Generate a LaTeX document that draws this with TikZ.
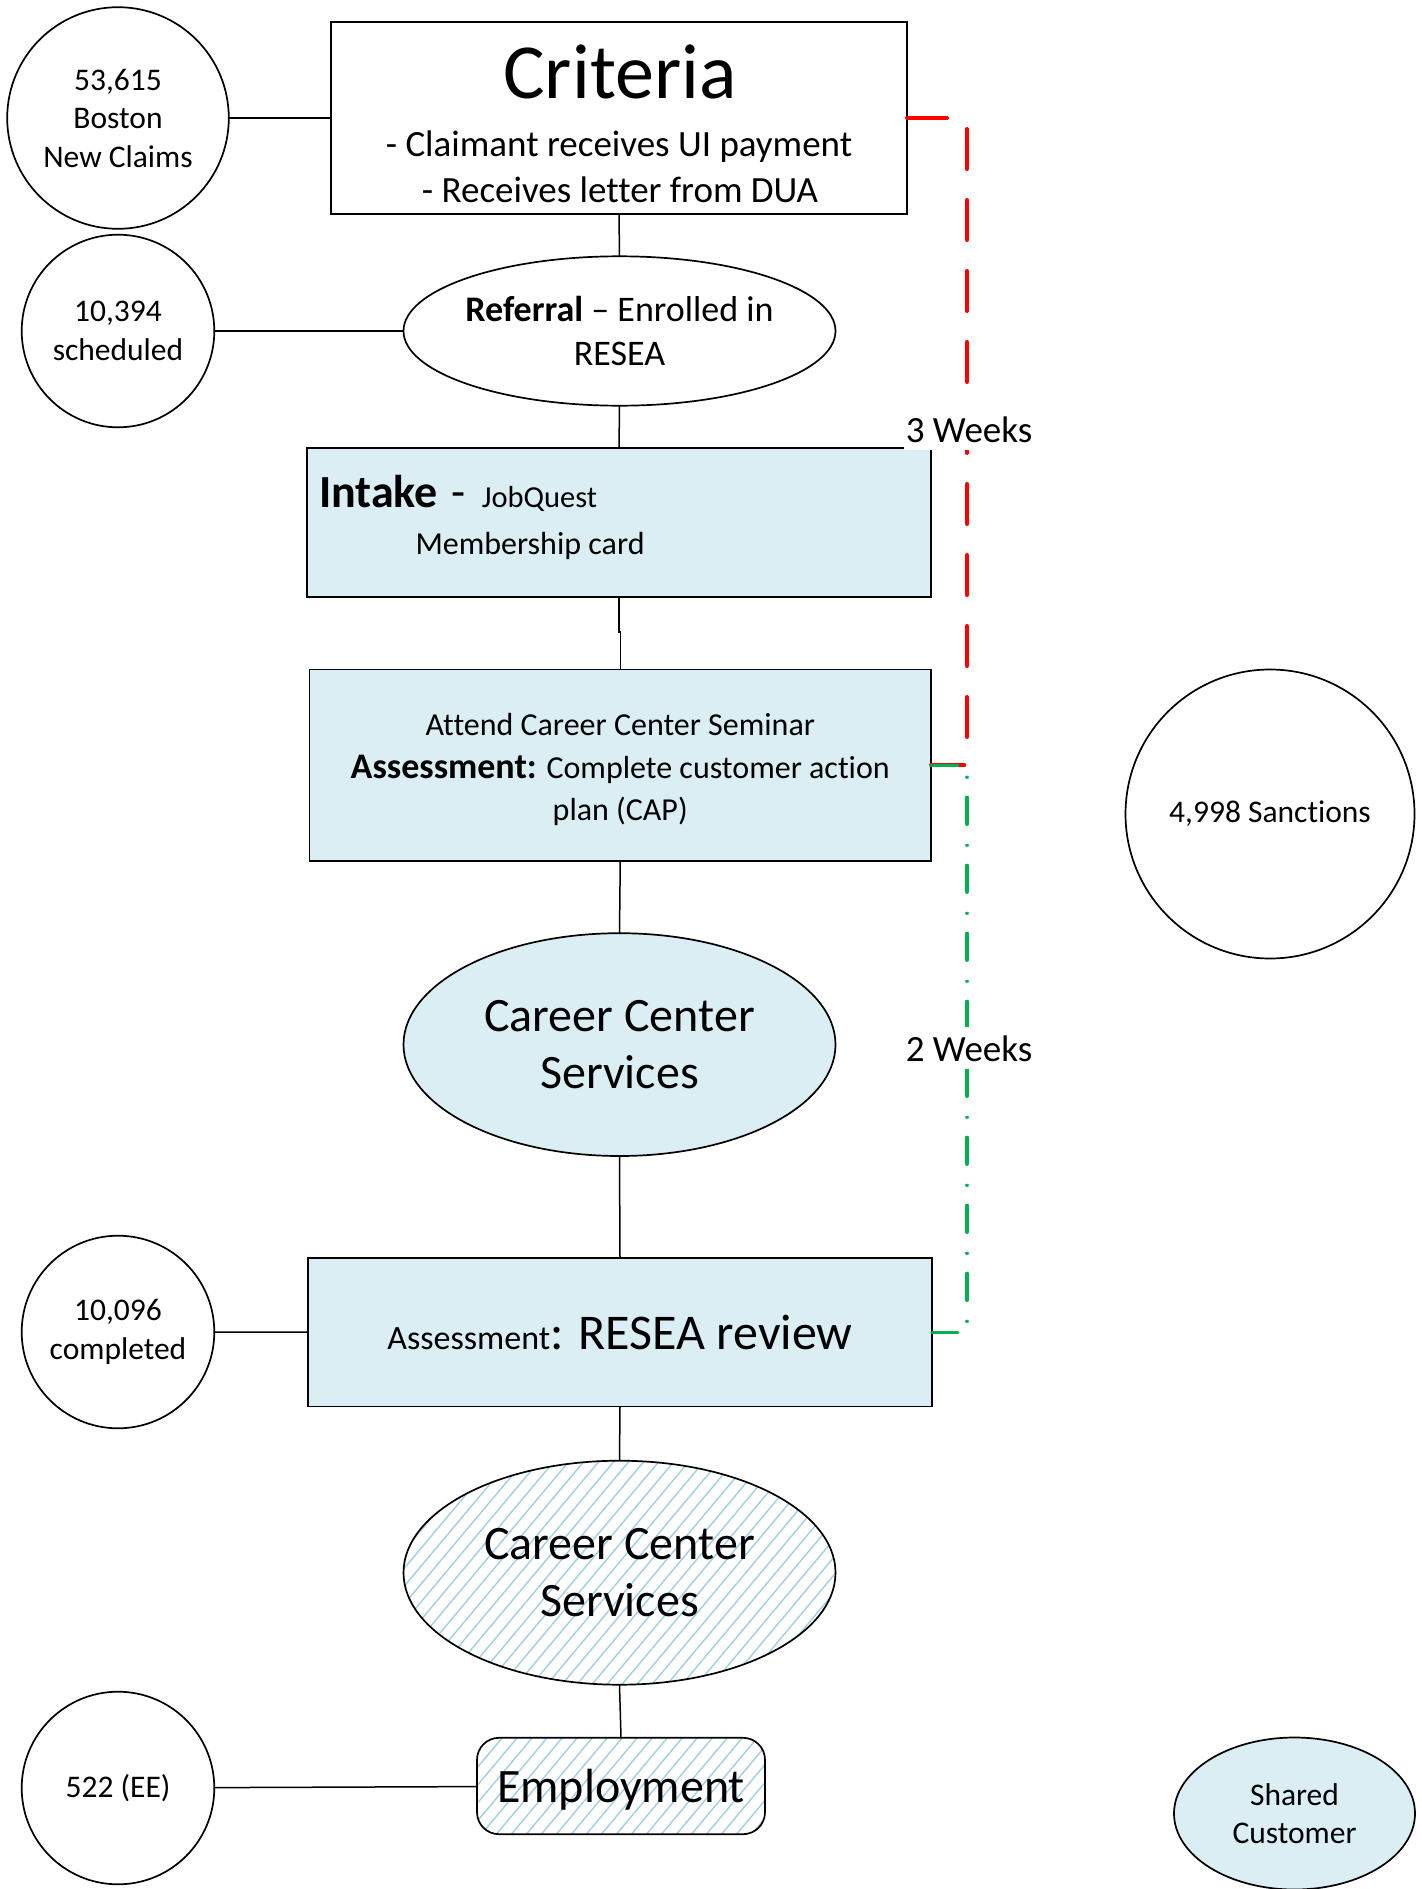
\documentclass[tikz,border=0pt]{standalone}
\usepackage{fontspec}
\setmainfont{Carlito}[Ligatures={NoCommon}]
\usetikzlibrary{shapes.geometric,patterns.meta}

\definecolor{paleblue}{HTML}{DAEEF3}
\definecolor{hatchblue}{RGB}{160,206,228}
\definecolor{linkred}{HTML}{FF0000}
\definecolor{linkgreen}{HTML}{00B050}

\newcommand\setfs[2]{\fontsize{#1}{#2}\selectfont}

\begin{document}
\begin{tikzpicture}[x=1pt,y=-1pt,
  every node/.style={inner sep=0pt, outer sep=0pt},
  stat/.style={circle, draw=black, line width=1.7pt, align=center,
               font=\setfs{31.5}{38.5}},
  stepbox/.style={rectangle, draw=black, line width=1.8pt},
  oval/.style={ellipse, draw=black, line width=1.7pt},
  hatched/.style={pattern={Lines[angle=50,distance=11.5pt,line width=1.4pt]},
                  pattern color=hatchblue},
  link/.style={draw=black, line width=1.5pt},
  redlink/.style={draw=linkred, line width=4pt, line cap=round, line join=round,
                  dash pattern=on 40pt off 31pt},
  greenlink/.style={draw=linkgreen, line width=3.2pt, line cap=round, line join=round,
                    dash pattern=on 27pt off 21pt on 0.01pt off 20pt},
  weeks/.style={fill=white, inner xsep=2pt, inner ysep=8pt, anchor=base,
                font=\setfs{37}{44}}]
\useasboundingbox (0,0) rectangle (1421,1889);

% ---- left-hand counts ----
\node[stat, minimum size=221.6] (claims) at (118,118) {53,615\\Boston\\New Claims};
\node[stat, minimum size=192.6] (sched) at (118,331) {10,394\\scheduled};
\node[stat, minimum size=192.6] (compl) at (118,1332) {10,096\\completed};
\node[stat, minimum size=192.6] (ee) at (118,1788) {522 (EE)};

% ---- right-hand counts ----
\node[stat, minimum size=289] (sanct) at (1270,814) {4,998 Sanctions};
\node[oval, fill=paleblue, minimum width=241, minimum height=152, align=center,
      font=\setfs{31.5}{38.5}] (shared) at (1294.5,1813.5) {Shared\\Customer};

% ---- main flow ----
\node[stepbox, fill=white, minimum width=576, minimum height=192.6] (crit) at (619,118) {};
\node[anchor=base, font=\setfs{78}{90}] (crit-title) at (620,98.7) {Criteria};
\node[anchor=base, font=\setfs{37}{45.5}] (crit-a) at (619,156.5) {- Claimant receives UI payment};
\node[anchor=base, font=\setfs{37}{45.5}] (crit-b) at (620,202.3) {- Receives letter from DUA};

\node[oval, fill=white, minimum width=432, minimum height=149.4] (ref) at (619.5,331) {};
\node[align=center, font=\setfs{36}{43.4}] (ref-text) at (ref.center)
     {\textbf{Referral} – Enrolled in\\RESEA};

\node[stepbox, fill=paleblue, minimum width=624, minimum height=149] (intake) at (619,522.5) {};
\node[anchor=base west] (intake-head) at (319,507)
     {{\bfseries\setfs{46}{50}Intake}\hspace{14pt}{\setfs{46}{50}-}\hspace{16pt}{\setfs{30.5}{34}JobQuest}};
\node[anchor=base west, font=\setfs{32}{38}] (intake-sub) at (415.5,554) {Membership card};

\node[stepbox, fill=paleblue, minimum width=621.5, minimum height=191.5] (assess) at (620.25,765.25) {};
\node[align=center, font=\setfs{32}{42.5}] (assess-text) at ([yshift=-4.5pt]assess.center)
     {Attend Career Center Seminar\\{\bfseries\setfs{36}{42.5}Assessment:} Complete customer action\\plan (CAP)};

\node[oval, fill=paleblue, minimum width=432, minimum height=222.8, align=center,
      font=\setfs{48}{57}] (ccs1) at (619.5,1044.6) {Career Center\\Services};

\node[stepbox, fill=paleblue, minimum width=624, minimum height=148.5] (review) at (620,1332.2)
     {{\setfs{34}{40}Assessment}{\setfs{50}{60}: RESEA review}};

\node[oval, hatched, minimum width=432, minimum height=224, align=center,
      font=\setfs{48}{57}] (ccs2) at (619.5,1572.7) {Career Center\\Services};

\node[draw=black, line width=1.7pt, rounded corners=22pt, hatched, minimum width=288,
      minimum height=96.4, text depth=0pt, font=\setfs{48}{56}] (employ) at (621,1786) {Employment};

% ---- connectors ----
\draw[link] (claims) -- (crit);
\draw[link] (sched) -- (ref);
\draw[link] (compl) -- (review);
\draw[link] (ee) -- (employ);
\draw[link] (crit.south) -- (ref.north);
\draw[link] (ref.south) -- (intake.north);
\draw[link] (intake.south) -- ++(0,35) -| (assess.north);
\draw[link] (assess.south) -- (ccs1.north);
\draw[link] (ccs1.south) -- (review.north);
\draw[link] (review.south) -- (ccs2.north);
\draw[link] (ccs2.south) -- (employ.north);

% ---- time spans ----
\draw[redlink] (crit.east) -- ++(60,0) |- (assess.east);
\draw[greenlink] (assess.east) -- ++(36,0) |- (review.east);

\node[weeks] (three) at (969,442) {3 Weeks};
\node[weeks] (two) at (969,1061) {2 Weeks};
\end{tikzpicture}
\end{document}
